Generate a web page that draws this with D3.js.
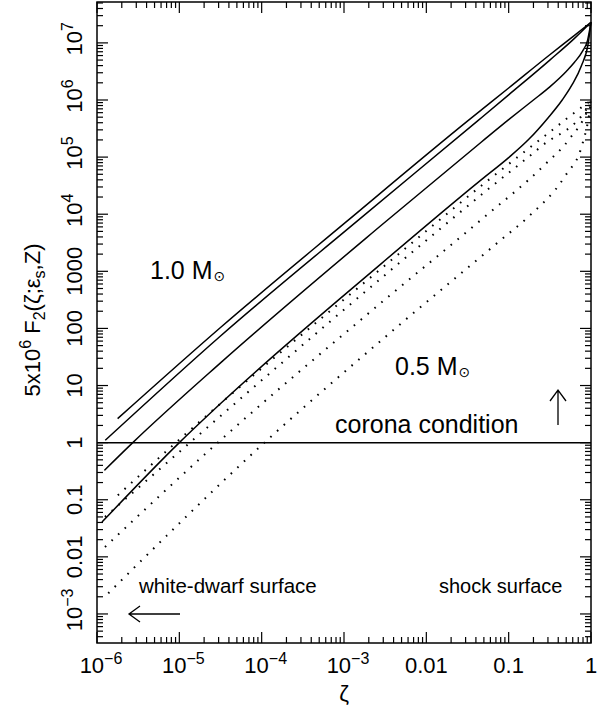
<!DOCTYPE html>
<html><head><meta charset="utf-8">
<script src="https://cdn.jsdelivr.net/npm/d3@7"></script>
<style>
body{margin:0;background:#fff}
svg{display:block}
text{font-family:"Liberation Sans",Arial,Helvetica,sans-serif;fill:#000}
</style>
</head><body>
<svg id="chart" width="598" height="713"></svg>
<script>
// ---- tick labels ----
const xTickValues = [1e-6, 1e-5, 1e-4, 1e-3, 0.01, 0.1, 1];
const xTickLabels = ["10^−6", "10^−5", "10^−4", "10^−3", "0.01", "0.1", "1"];
const yTickValues = [1e-3, 0.01, 0.1, 1, 10, 100, 1000, 1e4, 1e5, 1e6, 1e7];
const yTickLabels = ["10^−3", "0.01", "0.1", "1", "10", "100", "1000", "10^4", "10^5", "10^6", "10^7"];

// ---- 1.0 Msun curves (solid): [zeta, F] ----
const solid1 = [[1.78e-6, 2.63], [3.24e-5, 107], [1.07e-3, 7.4e3], [0.031, 4.17e5], [0.1, 1.62e6], [0.316, 6.2e6], [0.63, 1.35e7], [1, 2.3e7]];
const solid2 = [[1.26e-6, 1.1], [3.24e-5, 76], [1.48e-3, 7.8e3], [0.0427, 4.4e5], [0.1, 1.23e6], [0.316, 5.0e6], [0.63, 1.2e7], [1, 2.3e7]];
const solid3 = [[1.23e-6, 0.327], [2.72e-6, 1], [3.24e-5, 25.7], [2.84e-3, 6.4e3], [0.0467, 1.84e5], [0.1, 4.52e5], [0.2, 1.0e6], [0.316, 1.7e6], [0.5, 3.16e6], [0.63, 4.57e6], [0.79, 7.2e6], [0.91, 1.12e7], [1, 2.3e7]];
const solid4 = [[1.15e-6, 0.0406], [1e-5, 1], [3.22e-5, 4.94], [2.84e-3, 1365], [0.0467, 4.04e4], [0.1, 9.8e4], [0.178, 2.09e5], [0.302, 4.9e5], [0.447, 1.0e6], [0.58, 1.78e6], [0.767, 4.0e6], [0.925, 9.8e6], [1, 2.3e7]];

// ---- 0.5 Msun curves (dotted): [zeta, F] ----
const dotted1 = [[1.79e-6, 0.12], [9.1e-6, 1], [3.27e-3, 1327], [0.0502, 3.44e4], [0.25, 2.11e5], [0.94, 9.2e5], [1, 9.8e5]];
const dotted2 = [[1.25e-6, 0.05], [3.36e-3, 933], [0.0512, 2.45e4], [0.25, 1.55e5], [0.955, 8.4e5], [1, 9.8e5]];
const dotted3 = [[1.25e-6, 0.0149], [2.93e-5, 1], [3.06e-3, 310], [0.0467, 8070], [0.27, 7.2e4], [0.552, 2.11e5], [0.906, 6.6e5], [1, 9.8e5]];
const dotted4 = [[1.37e-6, 2.3e-3], [1.08e-4, 1], [4.3e-3, 103], [0.0794, 3490], [0.172, 8930], [0.481, 4.6e4], [0.789, 1.72e5], [0.966, 6.6e5], [1, 9.8e5]];

const coronaLevel = 1;

// ---- layout ----
const svg = d3.select("#chart");
const L = 97, R = 591, T = 2, B = 643;
const x = d3.scaleLog().domain([1e-6, 1]).range([L, R]);
const y = d3.scaleLog().domain([3.1e-4, 5.2e7]).range([B, T]);

function minorTicks(lo, hi) {
  const out = [];
  for (let e = Math.floor(Math.log10(lo)); e <= Math.ceil(Math.log10(hi)); e++) {
    for (let m = 2; m <= 9; m++) {
      const v = m * Math.pow(10, e);
      if (v > lo * 1.0001 && v < hi * 0.9999) out.push(v);
    }
  }
  return out;
}
const xMinor = minorTicks(1e-6, 1);
const yMinor = minorTicks(3.1e-4, 5.2e7);
const yMajor = d3.range(-3, 8).map(e => Math.pow(10, e));

const MAJ = 11, MIN = 6;
const g = svg.append("g").attr("stroke", "#000").attr("stroke-width", 1.2);
xTickValues.forEach(v => {
  g.append("line").attr("x1", x(v)).attr("x2", x(v)).attr("y1", B).attr("y2", B - MAJ);
  g.append("line").attr("x1", x(v)).attr("x2", x(v)).attr("y1", T).attr("y2", T + MAJ);
});
xMinor.forEach(v => {
  g.append("line").attr("x1", x(v)).attr("x2", x(v)).attr("y1", B).attr("y2", B - MIN);
  g.append("line").attr("x1", x(v)).attr("x2", x(v)).attr("y1", T).attr("y2", T + MIN);
});
yMajor.forEach(v => {
  g.append("line").attr("y1", y(v)).attr("y2", y(v)).attr("x1", L).attr("x2", L + MAJ);
  g.append("line").attr("y1", y(v)).attr("y2", y(v)).attr("x1", R).attr("x2", R - MAJ);
});
yMinor.forEach(v => {
  g.append("line").attr("y1", y(v)).attr("y2", y(v)).attr("x1", L).attr("x2", L + MIN);
  g.append("line").attr("y1", y(v)).attr("y2", y(v)).attr("x1", R).attr("x2", R - MIN);
});

// frame
svg.append("rect").attr("x", L).attr("y", T).attr("width", R - L).attr("height", B - T)
  .attr("fill", "none").attr("stroke", "#000").attr("stroke-width", 1.5);

// tick labels
function addLabel(sel, s, supSize) {
  const parts = s.split("^");
  sel.append("tspan").text(parts[0]);
  if (parts.length > 1) sel.append("tspan").attr("font-size", supSize).attr("dy", -9).text(parts[1]);
}
xTickValues.forEach((v, i) => {
  const t = svg.append("text").attr("x", x(v) + (xTickLabels[i].includes("^") ? 4 : 0)).attr("y", 673)
    .attr("text-anchor", "middle").attr("font-size", 22);
  addLabel(t, xTickLabels[i], 16);
});
yTickValues.forEach((v, i) => {
  const t = svg.append("text").attr("transform", `translate(82,${y(v) + (yTickLabels[i].includes("^") ? -4 : 0)}) rotate(-90)`)
    .attr("text-anchor", "middle").attr("font-size", 22);
  addLabel(t, yTickLabels[i], 16);
});

// axis titles
svg.append("text").attr("x", 344).attr("y", 701).attr("text-anchor", "middle")
  .attr("font-size", 22).text("ζ");
const yt = svg.append("text").attr("transform", "translate(40,320) rotate(-90)")
  .attr("text-anchor", "middle").attr("font-size", 22);
yt.append("tspan").text("5x10");
yt.append("tspan").attr("font-size", 16).attr("dy", -9).text("6");
yt.append("tspan").attr("dy", 9).text(" F");
yt.append("tspan").attr("font-size", 16).attr("dy", 5).text("2");
yt.append("tspan").attr("dy", -5).text("(ζ;ε");
yt.append("tspan").attr("font-size", 16).attr("dy", 5).text("s");
yt.append("tspan").attr("dy", -5).text(",Z)");

// curves
const line = d3.line().x(d => x(d[0])).y(d => y(d[1])).curve(d3.curveMonotoneX);
[solid1, solid2, solid3, solid4].forEach(s => {
  svg.append("path").attr("d", line(s)).attr("fill", "none").attr("stroke", "#000").attr("stroke-width", 1.5);
});
[dotted1, dotted2, dotted3, dotted4].forEach(s => {
  svg.append("path").attr("d", line(s)).attr("fill", "none").attr("stroke", "#000")
    .attr("stroke-width", 2).attr("stroke-dasharray", "1.6,7.4");
});

// corona condition line
svg.append("line").attr("x1", L).attr("x2", R).attr("y1", y(coronaLevel)).attr("y2", y(coronaLevel))
  .attr("stroke", "#000").attr("stroke-width", 1.5);

// annotations
function sunLabel(px, py, txt) {
  const t = svg.append("text").attr("x", px).attr("y", py).attr("font-size", 25);
  t.append("tspan").text(txt + " M");
  t.append("tspan").attr("font-family", "DejaVu Sans").attr("font-size", 14).attr("dy", 2).attr("dx", 1).text("⊙");
}
sunLabel(150, 279, "1.0");
sunLabel(395, 375, "0.5");
svg.append("text").attr("x", 335).attr("y", 433).attr("font-size", 25).text("corona condition");
svg.append("text").attr("x", 139).attr("y", 593).attr("font-size", 20.5).text("white-dwarf surface");
svg.append("text").attr("x", 439).attr("y", 593).attr("font-size", 20).text("shock surface");

const ag = svg.append("g").attr("stroke", "#000").attr("stroke-width", 1.3).attr("fill", "none");
// up arrow
ag.append("path").attr("d", "M558,425 L558,390 M550,401 L558,390 L566,401");
// left arrow
ag.append("path").attr("d", "M180,614 L129,614 M140,606 L129,614 L140,622");
</script>
</body></html>
